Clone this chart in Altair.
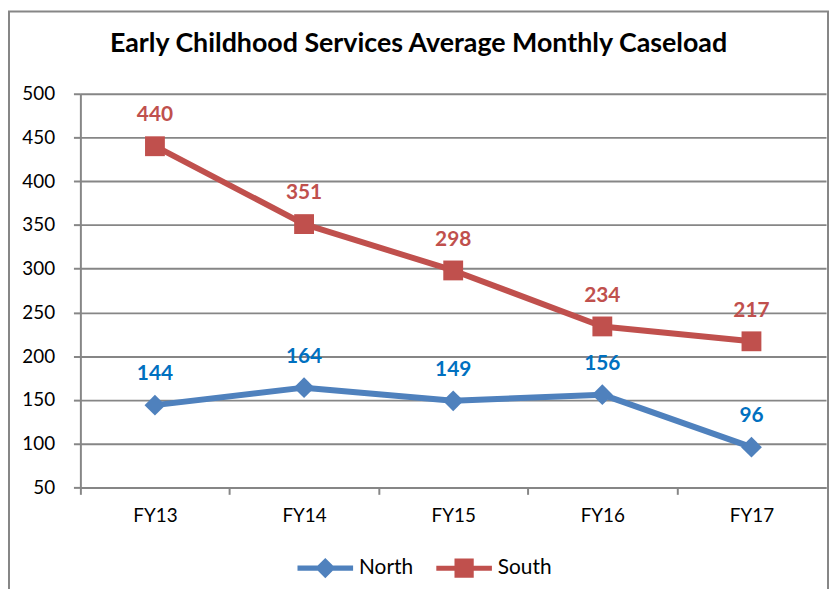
import altair as alt
import pandas as pd

years = ["FY13", "FY14", "FY15", "FY16", "FY17"]
north = [144, 164, 149, 156, 96]
south = [440, 351, 298, 234, 217]
series = ["North", "South"]
line_colors = ["#4F81BD", "#C0504D"]
label_colors = ["#0070C0", "#C0504D"]
y_ticks = [50, 100, 150, 200, 250, 300, 350, 400, 450, 500]
title_text = "Early Childhood Services Average Monthly Caseload"

rows = []
for s, vals, lc in zip(series, [north, south], label_colors):
    for yr, v in zip(years, vals):
        rows.append({"year": yr, "series": s, "value": v, "lblColor": lc})
df = pd.DataFrame(rows)

W, H = 752, 397
STEP = W / 5.0
GRAY = "#868686"
FONT = "Lato"

diamond_path = "M-2.6,-0.24H2.6V0.24H-2.6Z M-0.95,0L0,-0.95L0.95,0L0,0.95Z"
square_path = "M-2.6,-0.24H2.6V0.24H-2.6Z M-0.9,-0.9H0.9V0.9H-0.9Z"

x_enc = alt.X(
    "year:N", sort=years, title=None,
    scale=alt.Scale(type="point", padding=0.5),
    axis=alt.Axis(
        tickOffset=-STEP / 2, labelOffset=STEP / 2, tickSize=7,
        domainColor=GRAY, tickColor=GRAY, domainWidth=2, tickWidth=2,
        labelFont=FONT, labelFontSize=19, labelColor="black", labelPadding=12,
        labelAngle=0, grid=False,
    ),
)
y_enc = alt.Y(
    "value:Q", title=None,
    scale=alt.Scale(domain=[50, 500], nice=False, zero=False),
    axis=alt.Axis(
        values=y_ticks, grid=True, gridColor=GRAY, gridWidth=2,
        domainColor=GRAY, tickColor=GRAY, domainWidth=2, tickWidth=2, tickSize=7,
        labelFont=FONT, labelFontSize=19, labelColor="black", labelPadding=19,
    ),
)

legend = alt.Legend(
    title=None, orient="none", direction="horizontal",
    legendX=236, legendY=467,
    symbolSize=465, symbolStrokeWidth=0, symbolOpacity=1,
    labelFont=FONT, labelFontSize=21, labelColor="black", labelOffset=23,
    columnPadding=22, padding=0,
)
color_enc = alt.Color(
    "series:N", scale=alt.Scale(domain=series, range=line_colors), legend=legend
)
shape_enc = alt.Shape(
    "series:N", scale=alt.Scale(domain=series, range=[diamond_path, square_path]),
    legend=legend,
)

base = alt.Chart(df)

lines = base.mark_line(strokeWidth=6, strokeCap="round", strokeJoin="round").encode(
    x=x_enc, y=y_enc, color=color_enc, detail="series:N"
)
pts_north = base.transform_filter(alt.datum.series == "North").mark_point(
    filled=True, opacity=1, size=441, shape="diamond"
).encode(x="year:N", y="value:Q", color=color_enc)
pts_south = base.transform_filter(alt.datum.series == "South").mark_point(
    filled=True, opacity=1, size=400, shape="square"
).encode(x="year:N", y="value:Q", color=color_enc)
legend_pts = base.mark_point(filled=True, opacity=0, size=1).encode(
    x="year:N", y="value:Q", color=color_enc, shape=shape_enc,
)
labels = base.mark_text(
    font=FONT, fontSize=21, fontWeight="bold", dy=-31, baseline="middle"
).encode(
    x="year:N", y="value:Q", text="value:Q", color=alt.Color("lblColor:N", scale=None)
)

one = alt.Chart(alt.Data(values=[{}]))
frame = one.mark_rect(filled=False, stroke=GRAY, strokeWidth=2).encode(
    x=alt.value(-72), x2=alt.value(754), y=alt.value(-83), y2=alt.value(512)
)
title = one.mark_text(
    font=FONT, fontSize=27, fontWeight="bold", color="black",
    align="center", baseline="alphabetic",
).encode(x=alt.value(341), y=alt.value(-42), text=alt.value(title_text))

chart = alt.layer(frame, title, lines, pts_north, pts_south, legend_pts, labels).properties(
    width=W, height=H,
    autosize=alt.AutoSizeParams(type="none"),
    padding={"left": 73, "top": 84, "right": 3, "bottom": 100},
).configure_view(stroke=None)

chart.save("out.html", embed_options={"renderer": "svg", "actions": False})
